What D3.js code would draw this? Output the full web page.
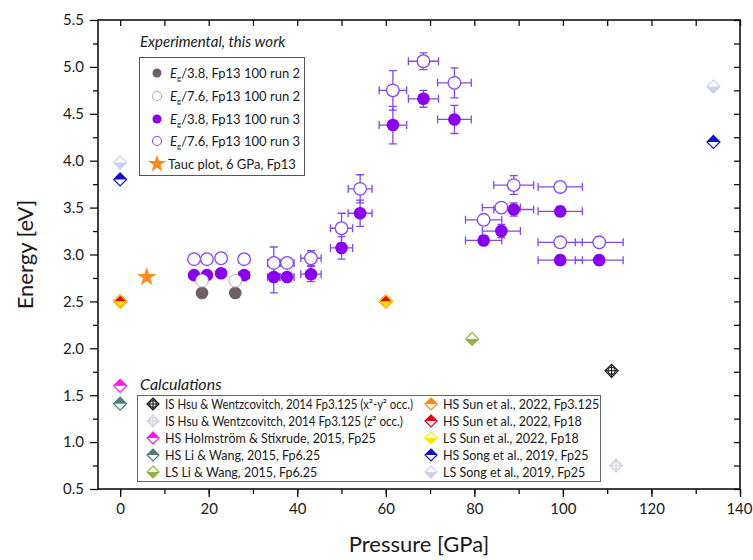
<!DOCTYPE html>
<html>
<head>
<meta charset="utf-8">
<script src="https://cdn.jsdelivr.net/npm/d3@7"></script>
<style>
  body { margin: 0; background: #fff; }
  text { font-family: Lato, 'Open Sans', sans-serif; fill: #1a1a1a; }
</style>
</head>
<body>
<div id="chart"></div>
<script>
// ---- data ----
const pressureTicks = [0, 20, 40, 60, 80, 100, 120, 140]
const energyTicks = [0.5, 1.0, 1.5, 2.0, 2.5, 3.0, 3.5, 4.0, 4.5, 5.0, 5.5]

// run 3 (purple)
const run3Pressure = [16.7, 19.6, 22.8, 28, 34.7, 37.7, 43.1, 50, 54.2, 61.6, 68.5, 75.5, 82.1, 86.1, 88.9, 99.4, 99.4, 108.2]
const run3PressureErr = [0.6, 0.6, 0.6, 1.2, 1.4, 1.6, 2.3, 2.5, 2.7, 3.1, 3.4, 3.8, 4.1, 4.3, 4.5, 5, 5, 5.4]
const run3Eg38 = [2.78, 2.78, 2.8, 2.78, 2.76, 2.76, 2.79, 3.07, 3.44, 4.38, 4.66, 4.44, 3.15, 3.25, 3.48, 3.46, 2.94, 2.94]
const run3Eg38Err = [0.02, 0.02, 0.02, 0.03, 0.17, 0.04, 0.08, 0.12, 0.14, 0.2, 0.09, 0.15, 0.05, 0.07, 0.07, 0.05, 0.05, 0.05]
const run3Eg76 = [2.95, 2.95, 2.96, 2.95, 2.91, 2.91, 2.96, 3.28, 3.7, 4.75, 5.06, 4.83, 3.37, 3.5, 3.74, 3.72, 3.13, 3.13]
const run3Eg76Err = [0.02, 0.02, 0.02, 0.04, 0.17, 0.05, 0.08, 0.16, 0.15, 0.21, 0.09, 0.16, 0.05, 0.05, 0.1, 0.05, 0.05, 0.05]

// run 2 (grey)
const run2Pressure = [18.5, 26]
const run2Eg38 = [2.59, 2.59]
const run2Eg76 = [2.72, 2.72]

// Tauc plot
const taucPressure = [6]
const taucEnergy = [2.76]

// calculations: [pressure, energy]
const hsuXY = [[111, 1.76]]
const hsuZ2 = [[112, 0.75]]
const holmstromHS = [[0, 1.6]]
const liWangHS = [[0, 1.41]]
const liWangLS = [[79.5, 2.1]]
const sunHS3125 = [[0, 2.5], [60, 2.5]]
const sunHS18 = [[0, 2.5], [60, 2.5]]
const sunLS18 = [[0, 2.5], [60, 2.5]]
const songHS = [[0, 3.8], [134, 4.2]]
const songLS = [[0, 3.98], [134, 4.79]]

const expLabels = ['/3.8, Fp13 100 run 2', '/7.6, Fp13 100 run 2', '/3.8, Fp13 100 run 3', '/7.6, Fp13 100 run 3', 'Tauc plot, 6 GPa, Fp13']
const calcLabels = [
  'IS Hsu & Wentzcovitch, 2014 Fp3.125 (x²-y² occ.)',
  'IS Hsu & Wentzcovitch, 2014 Fp3.125 (z² occ.)',
  'HS Holmström & Stixrude, 2015, Fp25',
  'HS Li & Wang, 2015, Fp6.25',
  'LS Li & Wang, 2015, Fp6.25',
  'HS Sun et al., 2022, Fp3.125',
  'HS Sun et al., 2022, Fp18',
  'LS Sun et al., 2022, Fp18',
  'HS Song et al., 2019, Fp25',
  'LS Song et al., 2019, Fp25'
]

// table for drawing calculated points
const calcSeries = [
  { kind: 'IS', color: '#111', pts: hsuXY, op: 1 },
  { kind: 'IS', color: '#c9c9d6', pts: hsuZ2, op: 0.8 },
  { kind: 'HS', color: '#ff19e6', pts: holmstromHS, op: 1 },
  { kind: 'HS', color: '#4b7f82', pts: liWangHS, op: 1 },
  { kind: 'LS', color: '#8db43c', pts: liWangLS, op: 1 },
  { kind: 'HS', color: '#ff8a00', pts: sunHS3125, op: 1 },
  { kind: 'HS', color: '#e3001b', pts: sunHS18, op: 1 },
  { kind: 'LS', color: '#ffe600', pts: sunLS18, op: 1 },
  { kind: 'HS', color: '#1010c8', pts: songHS, op: 1 },
  { kind: 'LS', color: '#c3c3f2', pts: songLS, op: 0.8 }
]

const purple = '#8a00ee'
const purpleLine = '#8448f0'
const greyFill = '#6f5f68'

const width = 753
const height = 560

const svg = d3
  .select('#chart')
  .append('svg')
  .attr('width', width)
  .attr('height', height)

const x = d3.scaleLinear().domain([-5, 140]).range([98, 740])
const y = d3.scaleLinear().domain([0.5, 5.5]).range([489, 20])

// ---- axes ----
const fmt = d => d3.format('.1f')(d)

svg
  .append('g')
  .attr('transform', 'translate(0,' + y(0.5) + ')')
  .call(d3.axisBottom(x).tickValues(d3.range(0, 141, 10)).tickSize(5).tickFormat(''))
svg
  .append('g')
  .attr('class', 'xaxis')
  .attr('transform', 'translate(0,' + y(0.5) + ')')
  .call(d3.axisBottom(x).tickValues(pressureTicks).tickSize(8).tickPadding(6))
svg
  .append('g')
  .attr('transform', 'translate(0,' + y(5.5) + ')')
  .call(d3.axisBottom(x).tickValues(d3.range(0, 141, 10)).tickSize(6).tickFormat(''))

svg
  .append('g')
  .attr('transform', 'translate(' + x(-5) + ',0)')
  .call(d3.axisLeft(y).tickValues(d3.range(0.75, 5.5, 0.5)).tickSize(5).tickFormat(''))
svg
  .append('g')
  .attr('class', 'yaxis')
  .attr('transform', 'translate(' + x(-5) + ',0)')
  .call(d3.axisLeft(y).tickValues(energyTicks).tickSize(8).tickPadding(6).tickFormat(fmt))
svg
  .append('g')
  .attr('transform', 'translate(' + x(140) + ',0)')
  .call(d3.axisLeft(y).tickValues(d3.range(0.5, 5.51, 0.25)).tickSize(6).tickFormat(''))

svg.selectAll('.domain').remove()
svg.selectAll('.tick line').attr('stroke', '#111').attr('stroke-width', 1.3)
svg.selectAll('.xaxis text, .yaxis text')
  .style('font-family', 'Lato, sans-serif')
  .style('font-size', '15px')
  .attr('fill', '#222')
svg.selectAll('.xaxis .tick text').filter(d => d === 140).attr('text-anchor', 'end').attr('dx', 12)

svg
  .append('rect')
  .attr('x', x(-5))
  .attr('y', y(5.5))
  .attr('width', x(140) - x(-5))
  .attr('height', y(0.5) - y(5.5))
  .attr('fill', 'none')
  .attr('stroke', '#111')
  .attr('stroke-width', 1.6)

svg
  .append('text')
  .attr('x', (x(-5) + x(140)) / 2)
  .attr('y', 552)
  .attr('text-anchor', 'middle')
  .style('font-size', '22px')
  .text('Pressure [GPa]')

svg
  .append('text')
  .attr('transform', 'translate(33,' + (y(0.5) + y(5.5)) / 2 + ') rotate(-90)')
  .attr('text-anchor', 'middle')
  .style('font-size', '22px')
  .text('Energy [eV]')

// ---- marker helpers ----
const ds = 6.5
const fullDiamond = s => `M0,${-s}L${s},0L0,${s}L${-s},0Z`
const topHalf = s => `M${-s},0L0,${-s}L${s},0Z`
const bottomHalf = s => `M${-s},0L0,${s}L${s},0Z`

function drawCalcMarker(g, d, s, layer) {
  if (layer === 'bg') {
    g.append('path').attr('d', fullDiamond(s)).attr('fill', '#fff').attr('opacity', d.op)
  } else if (layer === 'fill') {
    if (d.kind === 'HS') g.append('path').attr('d', topHalf(s)).attr('fill', d.color).attr('opacity', d.op)
    if (d.kind === 'LS') g.append('path').attr('d', bottomHalf(s)).attr('fill', d.color).attr('opacity', d.op)
  } else {
    g.append('path')
      .attr('d', fullDiamond(s))
      .attr('fill', 'none')
      .attr('stroke', d.color)
      .attr('stroke-width', 1.2)
      .attr('opacity', d.op)
    if (d.kind === 'IS') {
      g.append('circle').attr('r', s * 0.55).attr('fill', 'none').attr('stroke', d.color).attr('stroke-width', 1.1).attr('opacity', d.op)
      g.append('path')
        .attr('d', `M0,${-s}V${s}M${-s},0H${s}`)
        .attr('stroke', d.color)
        .attr('stroke-width', 1.1)
        .attr('opacity', d.op)
    }
  }
}

// ---- calculated points ----
const calcPts = []
calcSeries.forEach(s => s.pts.forEach(p => calcPts.push({ ...s, p: p[0], e: p[1] })))

;['bg', 'fill', 'line'].forEach(layer => {
  svg
    .append('g')
    .selectAll('g')
    .data(calcPts)
    .enter()
    .append('g')
    .attr('transform', d => 'translate(' + x(d.p) + ',' + y(d.e) + ')')
    .each(function(d) {
      drawCalcMarker(d3.select(this), d, ds, layer)
    })
})

// ---- error bars ----
function errorBars(pres, presErr, en, enErr) {
  const g = svg.append('g').attr('stroke', purpleLine).attr('stroke-width', 1.3).attr('fill', 'none')
  pres.forEach((p, i) => {
    const cx = x(p)
    const cy = y(en[i])
    const x0 = x(p - presErr[i])
    const x1 = x(p + presErr[i])
    const y0 = y(en[i] - enErr[i])
    const y1 = y(en[i] + enErr[i])
    g.append('path').attr('d', `M${x0},${cy}H${x1}M${x0},${cy - 4}V${cy + 4}M${x1},${cy - 4}V${cy + 4}`)
    g.append('path').attr('d', `M${cx},${y0}V${y1}M${cx - 4},${y0}H${cx + 4}M${cx - 4},${y1}H${cx + 4}`)
  })
}
errorBars(run3Pressure, run3PressureErr, run3Eg76, run3Eg76Err)
errorBars(run3Pressure, run3PressureErr, run3Eg38, run3Eg38Err)

// ---- experimental points ----
const r = 6.3

svg
  .append('g')
  .selectAll('circle')
  .data(run3Pressure)
  .enter()
  .append('circle')
  .attr('cx', d => x(d))
  .attr('cy', (d, i) => y(run3Eg38[i]))
  .attr('r', r)
  .attr('fill', purple)

svg
  .append('g')
  .selectAll('circle')
  .data(run3Pressure)
  .enter()
  .append('circle')
  .attr('cx', d => x(d))
  .attr('cy', (d, i) => y(run3Eg76[i]))
  .attr('r', r)
  .attr('fill', '#fff')
  .attr('stroke', purpleLine)
  .attr('stroke-width', 1.3)

svg
  .append('g')
  .selectAll('circle')
  .data(run2Pressure)
  .enter()
  .append('circle')
  .attr('cx', d => x(d))
  .attr('cy', (d, i) => y(run2Eg38[i]))
  .attr('r', r)
  .attr('fill', greyFill)

svg
  .append('g')
  .selectAll('circle')
  .data(run2Pressure)
  .enter()
  .append('circle')
  .attr('cx', d => x(d))
  .attr('cy', (d, i) => y(run2Eg76[i]))
  .attr('r', r)
  .attr('fill', '#fff')
  .attr('stroke', '#b5aab0')
  .attr('stroke-width', 1)

const star = d3.symbol().type(d3.symbolStar)
svg
  .append('g')
  .selectAll('path')
  .data(taucPressure)
  .enter()
  .append('path')
  .attr('transform', (d, i) => 'translate(' + x(d) + ',' + y(taucEnergy[i]) + ')')
  .attr('d', star.size(115))
  .attr('fill', '#ff8c1a')

// ---- legend: experimental ----
svg
  .append('text')
  .attr('x', 140)
  .attr('y', 47)
  .style('font-size', '15px')
  .style('font-style', 'italic')
  .text('Experimental, this work')

svg
  .append('rect')
  .attr('x', 139.5)
  .attr('y', 57.5)
  .attr('width', 165)
  .attr('height', 118)
  .attr('fill', '#fff')
  .attr('stroke', '#555')
  .attr('stroke-width', 1)

const expRowY = [73, 96, 119, 141, 164]
const expSym = [
  { fill: greyFill, stroke: 'none' },
  { fill: '#fff', stroke: '#b5aab0' },
  { fill: purple, stroke: 'none' },
  { fill: '#fff', stroke: purpleLine },
  { star: true }
]
const leg1 = svg.append('g')
expLabels.forEach((label, i) => {
  const s = expSym[i]
  if (s.star) {
    leg1.append('path').attr('transform', 'translate(157,' + expRowY[i] + ')').attr('d', star.size(100)).attr('fill', '#ff8c1a')
  } else {
    leg1
      .append('circle')
      .attr('cx', 157)
      .attr('cy', expRowY[i])
      .attr('r', 4.5)
      .attr('fill', s.fill)
      .attr('stroke', s.stroke)
      .attr('stroke-width', 1.1)
  }
  const t = leg1
    .append('text')
    .attr('x', i === 4 ? 168 : 170)
    .attr('y', expRowY[i] + 4.5)
    .style('font-size', '13px')
  if (i < 4) {
    t.append('tspan').style('font-style', 'italic').text('E')
    t.append('tspan').attr('dy', 3).style('font-size', '8px').text('g')
    t.append('tspan').attr('dy', -3).text(label)
  } else {
    t.text(label)
  }
})

// ---- legend: calculations ----
svg
  .append('text')
  .attr('x', 140)
  .attr('y', 390)
  .style('font-size', '16px')
  .style('font-style', 'italic')
  .text('Calculations')

svg
  .append('rect')
  .attr('x', 137.5)
  .attr('y', 395.5)
  .attr('width', 463)
  .attr('height', 86)
  .attr('fill', '#fff')
  .attr('stroke', '#666')
  .attr('stroke-width', 1)

const calcRowY = [404, 421, 438, 455, 472]
const leg2 = svg.append('g')
calcLabels.forEach((label, i) => {
  const col = i < 5 ? 0 : 1
  const row = i % 5
  const sx = col === 0 ? 153 : 431
  const g = leg2.append('g').attr('transform', 'translate(' + sx + ',' + calcRowY[row] + ')')
  ;['bg', 'fill', 'line'].forEach(layer => drawCalcMarker(g, calcSeries[i], 6, layer))
  const t = leg2
    .append('text')
    .attr('x', sx + 12)
    .attr('y', calcRowY[row] + 4.5)
    .style('font-size', '12.5px')
    .text(label)
  // the two Hsu rows are set tighter in the original
  if (i === 0) t.attr('textLength', 248).attr('lengthAdjust', 'spacingAndGlyphs')
  if (i === 1) t.attr('textLength', 238).attr('lengthAdjust', 'spacingAndGlyphs')
})
</script>
</body>
</html>
